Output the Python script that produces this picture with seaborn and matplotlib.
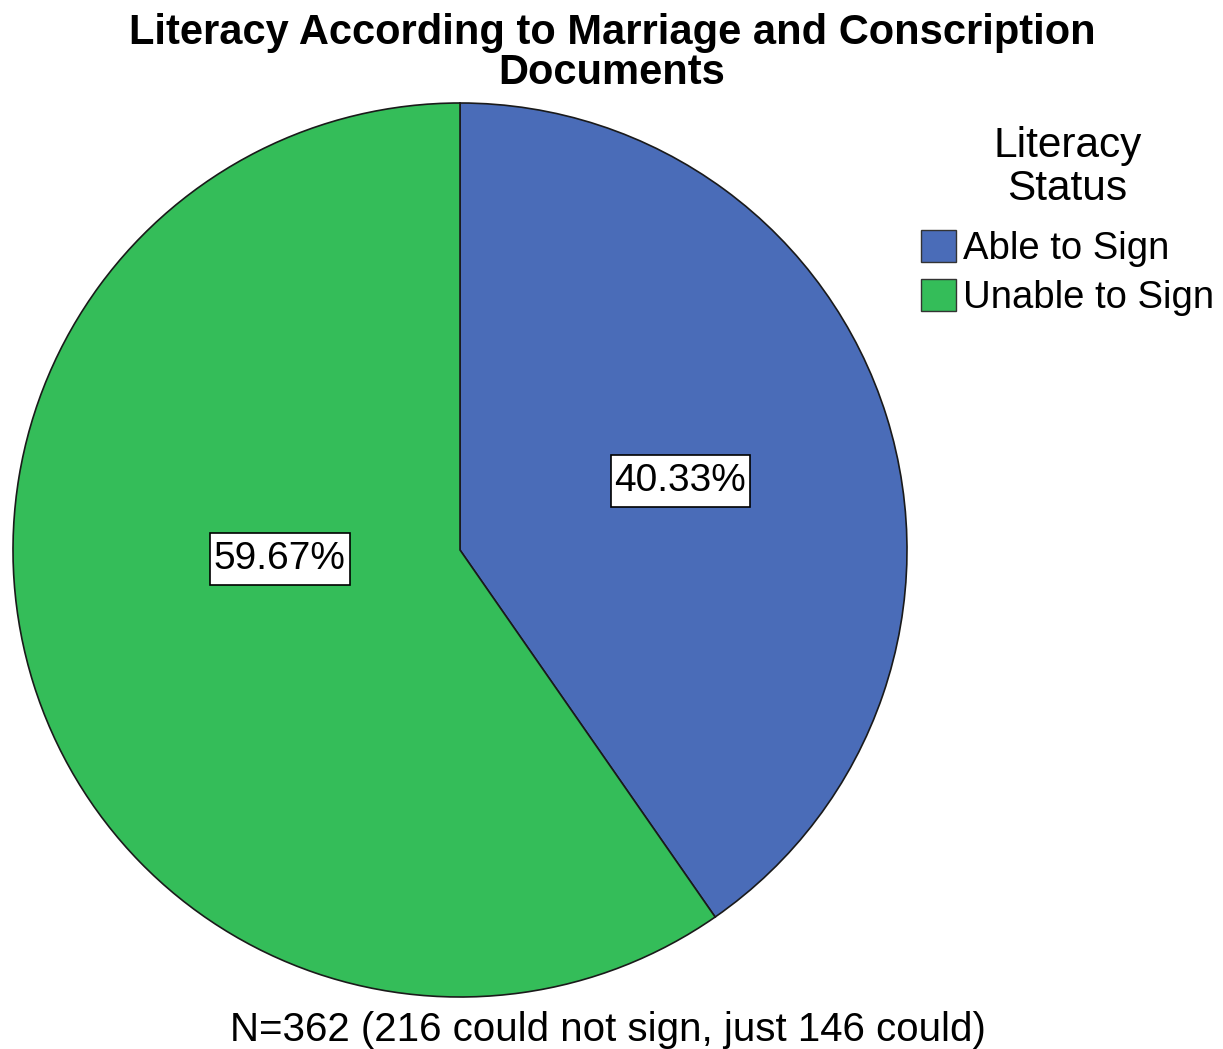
import matplotlib
matplotlib.use("Agg")
import matplotlib.pyplot as plt
from matplotlib.patches import Patch
from matplotlib.path import Path
import seaborn as sns

# Literacy counts from marriage and conscription records
categories = ["Able to Sign", "Unable to Sign"]
counts = [146, 216]
colors = ["#4A6CB8", "#34BD59"]

title = "Literacy According to Marriage and Conscription\nDocuments"
legend_title = "Literacy\nStatus"
footer = "N=362 (216 could not sign, just 146 could)"

sns.set_theme(style="white")
plt.rcParams["font.family"] = ["Liberation Sans", "DejaVu Sans"]
plt.rcParams["text.color"] = "black"

total = sum(counts)
shares = [c / total * 100 for c in counts]


def label_box(x0, y0, width, height, mutation_size):
    """Square box with a little more vertical than horizontal padding."""
    px = 0.1 * mutation_size
    py = 0.2 * mutation_size
    x0, y0 = x0 - px, y0 - py
    x1, y1 = x0 + width + 2 * px, y0 + height + 2 * py
    return Path([(x0, y0), (x1, y0), (x1, y1), (x0, y1), (x0, y0)],
                closed=True)


fig = plt.figure(figsize=(12.23, 10.49), dpi=100)
ax = fig.add_axes([13 / 1223, 52 / 1049, 894 / 1223, 894 / 1049])

wedges, _ = ax.pie(
    shares,
    colors=colors,
    startangle=90,
    counterclock=False,
    radius=1,
    wedgeprops=dict(edgecolor="#1a1a1a", linewidth=1.2),
)
ax.set_xlim(-1, 1)
ax.set_ylim(-1, 1)
ax.set_aspect("equal")
ax.axis("off")

# percentage labels in boxed text
label_pos = [(0.493, 0.154), (-0.403, -0.020)]
for (x, y), pct in zip(label_pos, shares):
    ax.text(x, y, f"{pct:.2f}%", ha="center", va="center", fontsize=28,
            color="black",
            bbox=dict(boxstyle=label_box, facecolor="white",
                      edgecolor="black", linewidth=1.2))

fig.text(612 / 1223, 1 - 53 / 1049, title, ha="center", va="center",
         fontsize=30, fontweight="bold", linespacing=1.0, color="black")

handles = [Patch(facecolor=c, edgecolor="#333333", linewidth=1) for c in colors]
leg = fig.legend(handles, categories, title=legend_title,
                 loc="upper left", bbox_to_anchor=(921 / 1223, 1 - 126 / 1049),
                 frameon=False, fontsize=27.5, title_fontsize=30.5,
                 handlelength=0.92, handleheight=0.92, handletextpad=0.18,
                 labelspacing=0.3, borderaxespad=0, borderpad=0,
                 labelcolor="black")
leg.get_title().set_multialignment("center")
leg.get_title().set_color("black")
leg.get_title().set_linespacing(1.1)
leg._legend_box.sep = 15

fig.text(608 / 1223, 1 - 1030 / 1049, footer, ha="center", va="center",
         fontsize=29, color="black")

fig.savefig("out.png", dpi=100, facecolor="white")
